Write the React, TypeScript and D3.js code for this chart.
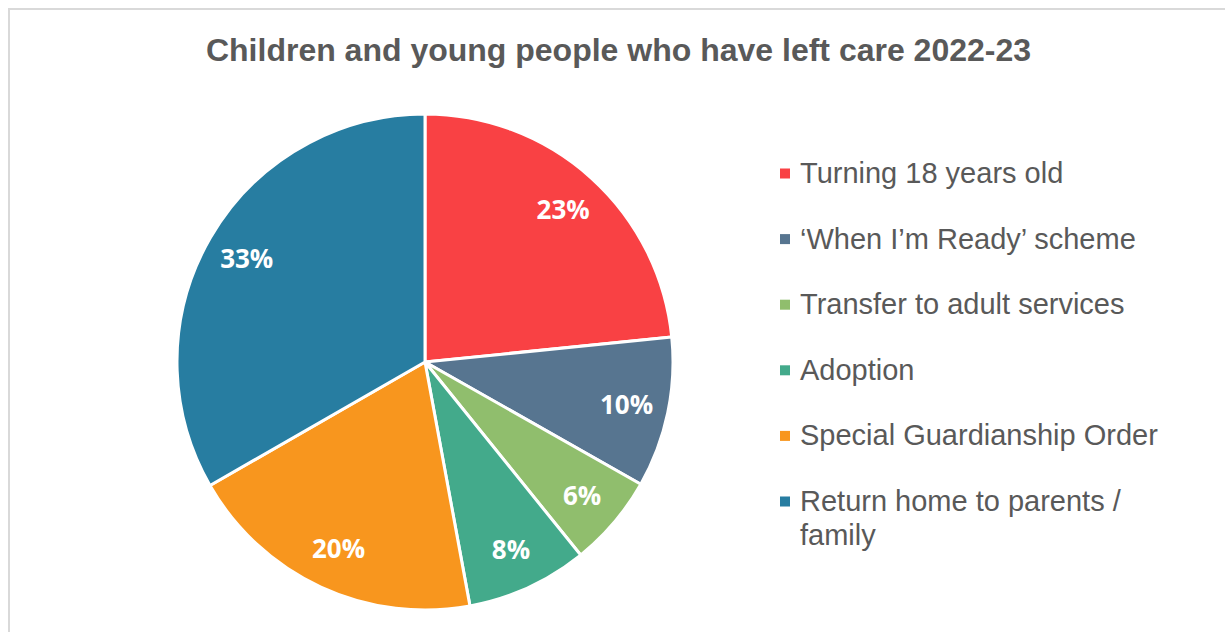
import React from "react";
import * as d3 from "d3";

const title = "Children and young people who have left care 2022-23";
const categories = [
  "Turning 18 years old",
  "\u2018When I\u2019m Ready\u2019 scheme",
  "Transfer to adult services",
  "Adoption",
  "Special Guardianship Order",
  "Return home to parents / family",
];
const legendLines = [
  ["Turning 18 years old"],
  ["\u2018When I\u2019m Ready\u2019 scheme"],
  ["Transfer to adult services"],
  ["Adoption"],
  ["Special Guardianship Order"],
  ["Return home to parents /", "family"],
];
const values = [23.4, 9.8, 6.0, 7.9, 19.6, 33.3];
const colors = ["#F94144", "#577590", "#90BE6D", "#43AA8B", "#F8961E", "#277DA1"];

const W = 1225;
const H = 632;
const cx = 425;
const cy = 362;
const R = 248;
const labelR = 206;

export default function App() {
  const pie = d3
    .pie<number>()
    .sort(null)
    .value((d) => d);
  const arcs = pie(values);
  const arc = d3.arc<d3.PieArcDatum<number>>().innerRadius(0).outerRadius(R);
  const labelArc = d3
    .arc<d3.PieArcDatum<number>>()
    .innerRadius(labelR)
    .outerRadius(labelR);
  const total = d3.sum(values);

  const legendY = d3
    .scalePoint<number>()
    .domain(d3.range(categories.length))
    .range([183, 511]);

  return (
    <svg
      width={W}
      height={H}
      style={{ position: "absolute", left: 0, top: 0, display: "block" }}
    >
      <rect x={0} y={0} width={W} height={H} fill="#ffffff" />
      <path d={`M9,${H} V9 H${W}`} fill="none" stroke="#d9d9d9" strokeWidth={2} />
      <text
        x={618.5}
        y={61}
        textAnchor="middle"
        fontFamily="'Liberation Sans', Arial, sans-serif"
        fontWeight="bold"
        fontSize={32}
        fill="#595959"
      >
        {title}
      </text>
      <g transform={`translate(${cx},${cy})`}>
        {arcs.map((a, i) => (
          <path
            key={i}
            d={arc(a) || ""}
            fill={colors[i]}
            stroke="#ffffff"
            strokeWidth={3}
            strokeLinejoin="round"
          />
        ))}
        {arcs.map((a, i) => {
          const [x, y] = labelArc.centroid(a);
          return (
            <text
              key={i}
              x={x}
              y={y}
              dy="0.36em"
              textAnchor="middle"
              fontFamily="'Open Sans', 'Noto Sans', sans-serif"
              fontWeight="bold"
              fontSize={26}
              fill="#ffffff"
            >
              {Math.round((a.data / total) * 100)}%
            </text>
          );
        })}
      </g>
      <g>
        {legendLines.map((lines, i) => {
          const y = legendY(i) as number;
          return (
            <g key={i}>
              <rect x={780} y={y - 14.5} width={10} height={10} fill={colors[i]} />
              <text
                x={800}
                y={y}
                fontFamily="'Liberation Sans', Arial, sans-serif"
                fontSize={29}
                fill="#595959"
              >
                {lines.map((ln, j) => (
                  <tspan key={j} x={800} dy={j === 0 ? 0 : 34}>
                    {ln}
                  </tspan>
                ))}
              </text>
            </g>
          );
        })}
      </g>
    </svg>
  );
}
